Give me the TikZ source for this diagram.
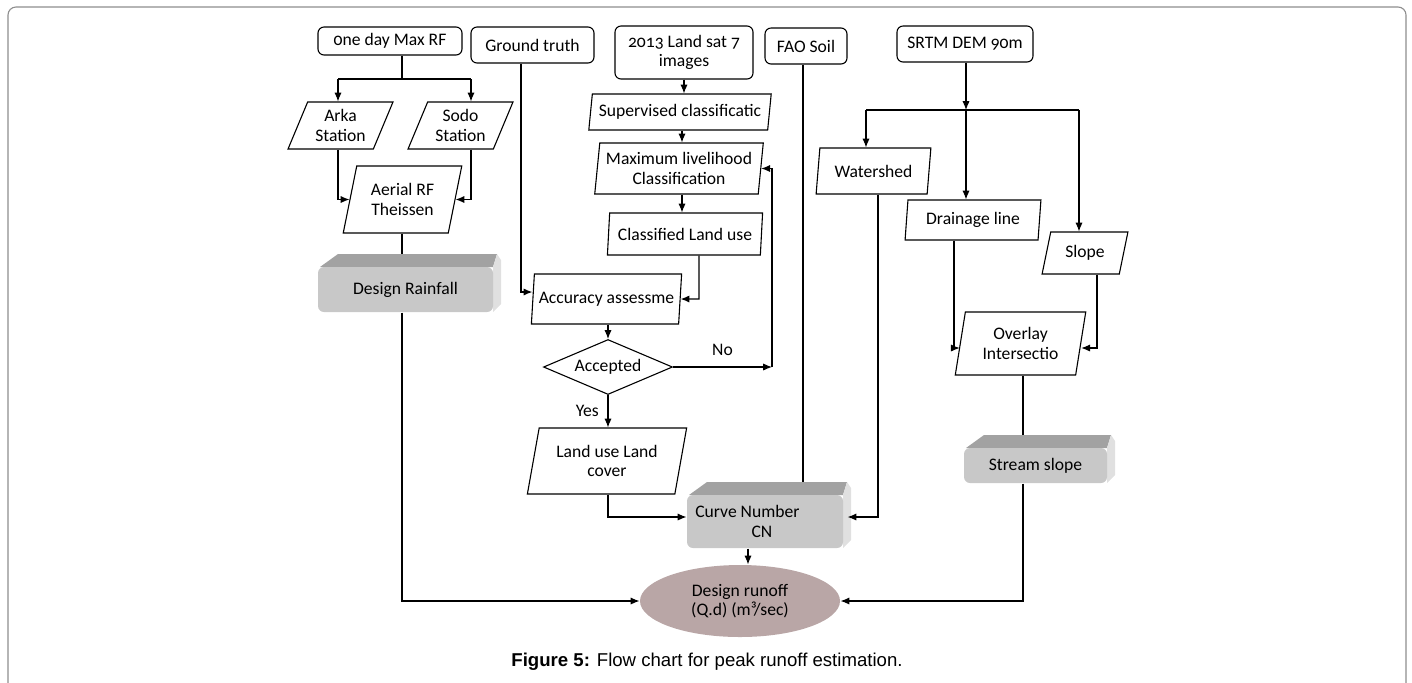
\documentclass[tikz,border=0pt]{standalone}
\usepackage{fontspec}
\setmainfont{Carlito}[Numbers=OldStyle]
\newfontfamily\capfont{Liberation Sans}
\usetikzlibrary{shapes.geometric,arrows.meta}

\definecolor{cubefront}{HTML}{C8C8C8}
\definecolor{cubetop}{HTML}{A2A2A2}
\definecolor{cubeside}{HTML}{E0E0E0}
\definecolor{runoffc}{HTML}{B9A6A6}
\definecolor{framegray}{HTML}{8E8E8E}

\tikzset{
   >={Latex[length=4.4pt,width=3.6pt]},
   boxtext/.style={font=\fontsize{8.8}{9.6}\selectfont, align=center},
   srcbox/.style={boxtext, draw, rounded corners=3pt, inner sep=1pt},
   databox/.style={boxtext, draw, trapezium, trapezium stretches=true, inner sep=0.5pt},
   cubebox/.style={boxtext, fill=cubefront, rounded corners=3pt, inner sep=1pt}
}

\begin{document}
\begin{tikzpicture}[x=0.5pt, y=-0.5pt, line width=0.55pt]
      \useasboundingbox (0,0) rectangle (1412,682);
      \draw[framegray, rounded corners=4pt] (8,7) rectangle (1406,720);
      \begin{scope}
         \def \Sources {
            onemax/390/41/144/28/0ne day Max RF,
            ground/532.5/45/123/36/Ground truth,
            landsat/684/52.5/138/53/2013 Land sat 7\\images,
            fao/806/46/82/36/FAO Soil,
            srtm/965/44/136/36/SRTM DEM 90m}
         \def \Steps {
            arka/340.5/125.5/105/47/65/Arka\\Station,
            sodo/460.5/125.5/105/47/65/Sodo\\Station,
            aerial/402.5/199.5/119/67/74/Aerial RF\\Theissen,
            superv/680/112/184/36/79/Supervised classificatic,
            maxlik/679/168.5/170/51/82/Maximum livelihood\\Classification,
            classlu/685/234/156/42/82/Classified Land use,
            accur/606.5/299/151/50/80/Accuracy assessme,
            landuse/607/461/160/66/75/Land use Land\\cover,
            watershed/873.5/171/115/46/79/Watershed,
            drain/973/220/136/40/83/Drainage line,
            slope/1085/253/86/42/73/Slope,
            overlay/1020.5/343.5/131/63/78/Overlay\\Intersectio}
         \def \Cubes {
            rain/405.5/289.5/175/45/Design Rainfall,
            cn/765/521.5/156/53/Curve Number\hspace*{2em}\\\hspace*{3.2em}CN,
            stream/1035.5/465.5/143/35/Stream slope}
         \foreach \u / \x / \y / \w / \h / \n in \Sources {
            \node[srcbox, minimum width=\w*0.5pt, minimum height=\h*0.5pt] (\u) at (\x, \y){\n};
         }
         \foreach \u / \x / \y / \w / \h / \a / \n in \Steps {
            \node[databox, minimum width=\w*0.5pt, minimum height=\h*0.5pt,
               trapezium left angle=\a, trapezium right angle=180-\a] (\u) at (\x, \y){\n};
         }
         \foreach \u / \x / \y / \w / \h / \n in \Cubes {
            \fill[cubetop] ({\x-\w/2+2}, {\y-\h/2}) -- ++(18,-13) -- ({\x+\w/2+4}, {\y-\h/2-13})
               -- ({\x+\w/2}, {\y-\h/2}) -- cycle;
            \fill[cubeside] ({\x+\w/2}, {\y-\h/2}) -- ({\x+\w/2+4}, {\y-\h/2-13}) -- ({\x+\w/2+8}, {\y-\h/2-7})
               -- ({\x+\w/2+8}, {\y+\h/2-8}) -- ({\x+\w/2}, {\y+\h/2}) -- cycle;
            \coordinate (top\u) at (\x, {\y-\h/2-13});
            \node[cubebox, align=left, minimum width=\w*0.5pt, minimum height=\h*0.5pt] (\u) at (\x, \y){\n};
         }
         \node[boxtext, draw, diamond, aspect=2.3, inner sep=0pt,
            minimum width=129*0.5pt, minimum height=55*0.5pt] (accept) at (608, 367){Accepted};
         \node[boxtext, ellipse, fill=runoffc, inner sep=0pt,
            minimum width=200*0.5pt, minimum height=72*0.5pt] (runoff) at (740, 601){Design runoff\\(Q.d) (m³/sec)};
         \node[font=\capfont\fontsize{9.3}{11}\selectfont] (caption) at (707, 662){\textbf{Figure 5:} Flow chart for peak runoff estimation.};
      \end{scope}
      % rainfall side
      \coordinate (rfsplit) at (402, 79);
      \coordinate (rfl) at (338, 79);
      \coordinate (rfr) at (471, 79);
      \coordinate (rfturn) at (402, 601);
      \path[draw] (onemax.south -| rfsplit) -- (rfsplit);
      \path[draw] (rfl) -- (rfr);
      \draw[->] (rfl) -- (rfl |- arka.north);
      \draw[->] (rfr) -- (rfr |- sodo.north);
      \draw[->] (rfl |- arka.south) |- (aerial.west);
      \draw[->] (rfr |- sodo.south) |- (aerial.east);
      \path[draw] (aerial.south -| rfturn) -- (toprain -| rfturn);
      \draw[->] (rain.south -| rfturn) -- (rfturn) -- (runoff.west);
      % land use side
      \coordinate (gtturn) at (521, 292);
      \coordinate (lsx) at (682, 0);
      \coordinate (cluturn) at (699, 299);
      \coordinate (noturn) at (772, 367);
      \coordinate (luturn) at (608, 517);
      \draw[->] (ground.south -| gtturn) -- (gtturn) -- (gtturn -| accur.west);
      \draw[->] (landsat.south) -- (landsat.south |- superv.north);
      \draw[->] (superv.south -| lsx) -- (maxlik.north -| lsx);
      \draw[->] (maxlik.south -| lsx) -- (classlu.north -| lsx);
      \draw[->] (classlu.south -| cluturn) -- (cluturn) -- (accur.east);
      \draw[->] (accept.north |- accur.south) -- (accept.north);
      \draw[->] (accept.east) -- node[boxtext, above=2pt] {No} (noturn);
      \draw[->] (noturn) |- (maxlik.east);
      \draw[->] (accept.south) -- node[boxtext, left=1pt] {Yes} (accept.south |- landuse.north);
      \draw[->] (landuse.south -| luturn) -- (luturn) -- (luturn -| cn.west);
      % soil and dem side
      \coordinate (faox) at (803, 0);
      \coordinate (wsturn) at (878, 517);
      \coordinate (cnside) at ([xshift=2pt]cn.east);
      \coordinate (demsplit) at (966, 110);
      \coordinate (demw) at (866, 110);
      \coordinate (deme) at (1079, 110);
      \coordinate (drturn) at (954, 348);
      \coordinate (slturn) at (1097, 348);
      \coordinate (ovx) at (1023, 0);
      \coordinate (stturn) at (1023, 601);
      \coordinate (cnx) at (748, 0);
      \path[draw] (fao.south -| faox) -- (topcn -| faox);
      \draw[->] (watershed.south -| wsturn) -- (wsturn) -- (wsturn -| cnside);
      \draw[->] (srtm.south -| demsplit) -- (demsplit);
      \path[draw] (demw) -- (deme);
      \draw[->] (demw) -- (demw |- watershed.north);
      \draw[->] (demsplit) -- (demsplit |- drain.north);
      \draw[->] (deme) -- (deme |- slope.north);
      \draw[->] (drain.south -| drturn) -- (drturn) -- (drturn -| overlay.west);
      \draw[->] (slope.south -| slturn) -- (slturn) -- (slturn -| overlay.east);
      \path[draw] (overlay.south -| ovx) -- (topstream -| ovx);
      \draw[->] (stream.south -| stturn) -- (stturn) -- (runoff.east);
      \draw[->] (cn.south -| cnx) -- (runoff.north -| cnx);
   \end{tikzpicture}
\end{document}
